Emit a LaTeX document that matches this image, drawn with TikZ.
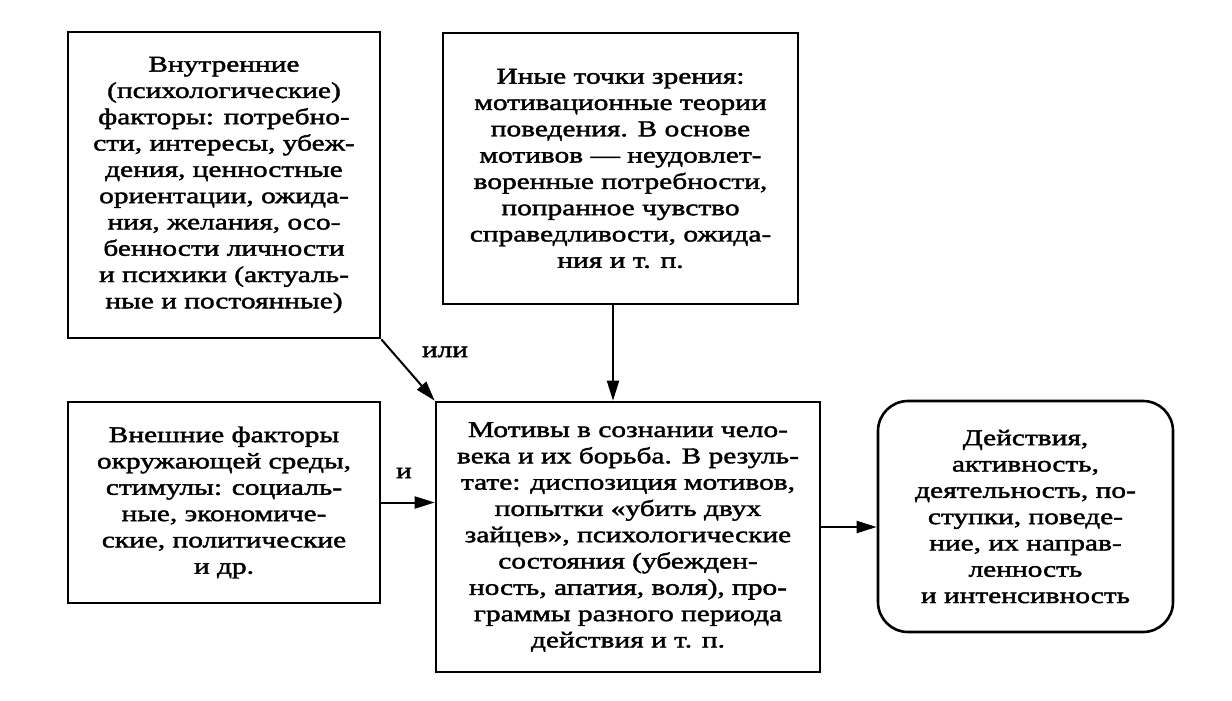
\documentclass[tikz,border=0pt]{standalone}
\usepackage{fontspec}
\setmainfont{Liberation Serif}[FakeStretch=1.3,FakeBold=1.8]
\usetikzlibrary{arrows.meta}

\begin{document}
\begin{tikzpicture}[x=0.5pt,y=0.5pt,
    box/.style={draw,line width=1.3pt,align=center,inner sep=0pt,font=\fontsize{11.3}{13.15}\selectfont},
    arr/.style={line width=1pt,-{Triangle[length=10pt,width=6pt]}},
    lbl/.style={font=\fontsize{11.3}{13.15}\selectfont}]
\useasboundingbox (0,0) rectangle (1232,-701);
\node [box,minimum width=156pt,minimum height=153pt] (inner) at (224,-185) {Внутренние\\(психологические)\\факторы: потребно-\\сти, интересы, убеж-\\дения, ценностные\\ориентации, ожида-\\ния, желания, осо-\\бенности личности\\и психики (актуаль-\\ные и постоянные)};
\node [box,minimum width=177.5pt,minimum height=135.5pt] (views) at (620.5,-168.5) {Иные точки зрения:\\мотивационные теории\\поведения. В основе\\мотивов — неудовлет-\\воренные потребности,\\попранное чувство\\справедливости, ожида-\\ния и т. п.};
\node [box,minimum width=156pt,minimum height=100.5pt] (outer) at (224,-502.5) {Внешние факторы\\окружающей среды,\\стимулы: социаль-\\ные, экономиче-\\ские, политические\\и др.};
\node [box,minimum width=192pt,minimum height=135pt] (motives) at (628,-537) {Мотивы в сознании чело-\\века и их борьба. В резуль-\\тате: диспозиция мотивов,\\попытки «убить двух\\зайцев», психологические\\состояния (убежден-\\ность, апатия, воля), про-\\граммы разного периода\\действия и т. п.};
\node [box,rounded corners=15pt,minimum width=147.5pt,minimum height=115.5pt] (actions) at (1025.5,-516.5) {Действия,\\активность,\\деятельность, по-\\ступки, поведе-\\ние, их направ-\\ленность\\и интенсивность};
\draw [arr] (inner.south east) -- (motives.north west);
\node [lbl] (ili) at (445,-352) {или};
\draw [arr] ([xshift=-3.75pt]views.south) -- ([xshift=-3.75pt]views.south |- motives.north);
\draw [arr] (outer.east) -- (outer.east -| motives.west);
\node [lbl] (i) at (404,-473) {и};
\draw [arr] ([yshift=5pt]motives.east) -- ([yshift=5pt]motives.east -| actions.west);
\end{tikzpicture}
\end{document}
